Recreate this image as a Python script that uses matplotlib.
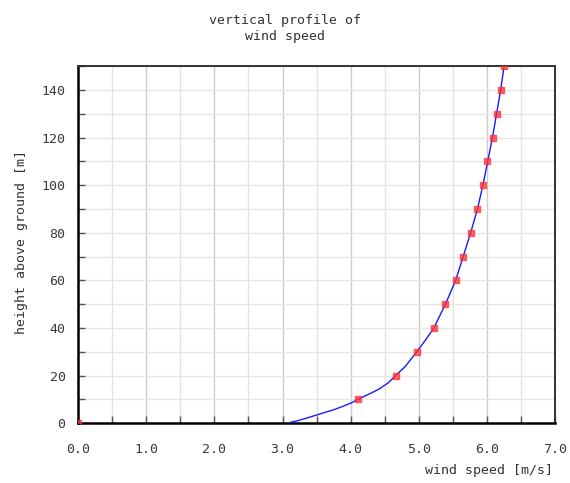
import matplotlib
matplotlib.use("Agg")
import matplotlib.pyplot as plt
from matplotlib.ticker import MultipleLocator

plt.rcParams.update({
    "font.family": "DejaVu Sans Mono",
    "font.size": 9,
})

# measured wind speed at each height
heights = [0, 10, 20, 30, 40, 50, 60, 70, 80, 90, 100, 110, 120, 130, 140, 150]
speeds = [0.0, 4.11, 4.66, 4.97, 5.22, 5.39, 5.54, 5.65, 5.76, 5.86, 5.94, 6.00, 6.09, 6.14, 6.21, 6.25]

# fitted profile curve
curve_z = [0.3, 1.0, 2.0, 3.4, 4.5, 5.6, 7.0, 8.4, 10, 11.3, 12.6, 14.4, 16.9, 20, 23.8, 30, 35, 40,
           50, 60, 70, 80, 90, 100, 110, 120, 130, 140, 150]
curve_u = [3.11, 3.22, 3.34, 3.50, 3.62, 3.75, 3.88, 4.00, 4.11, 4.20, 4.30, 4.42, 4.55, 4.66, 4.80, 4.97,
           5.10, 5.22, 5.39, 5.54, 5.65, 5.76, 5.86, 5.94, 6.01, 6.08, 6.14, 6.20, 6.25]

fig = plt.figure(figsize=(5.7, 4.83), dpi=100)
ax = fig.add_axes([0.137, 0.124, 0.837, 0.739])

ax.plot(curve_u, curve_z, color="#1a1aff", lw=1.0, zorder=3)
ax.plot(speeds, heights, ls="none", marker="s", ms=5.0, mfc="#ff3333",
        mec="#ff3333", alpha=0.75, zorder=4)

ax.set_xlim(0, 7)
ax.set_ylim(0, 150)
ax.xaxis.set_minor_locator(MultipleLocator(0.5))
ax.yaxis.set_major_locator(MultipleLocator(20))
ax.yaxis.set_minor_locator(MultipleLocator(10))
ax.set_xticks([float(v) for v in range(8)])
ax.set_xticklabels([f"{v:.1f}" for v in range(8)])

ax.grid(which="major", axis="x", color="#cccccc", lw=1.0)
ax.grid(which="minor", axis="x", color="#e2e2e2", lw=1.0)
ax.grid(which="both", axis="y", color="#e6e6e6", lw=1.0)
ax.set_axisbelow(True)

ax.tick_params(which="both", direction="in", length=5, width=1, color="#555555",
               labelcolor="#3a3a3a", labelsize=9.5)
ax.tick_params(axis="x", pad=14)
ax.tick_params(axis="y", pad=9)

for side in ["left", "bottom"]:
    ax.spines[side].set_color("black")
    ax.spines[side].set_linewidth(1.8)
for side in ["top", "right"]:
    ax.spines[side].set_color("#333333")
    ax.spines[side].set_linewidth(1.4)

fig.text(0.5, 0.972, "vertical profile of\nwind speed", ha="center", va="top",
         fontsize=9.5, color="#333333", linespacing=1.3)
fig.text(0.97, 0.012, "wind speed [m/s]", ha="right", va="bottom",
         fontsize=9.5, color="#333333")
fig.text(0.038, 0.5, "height above ground [m]", ha="center", va="center",
         rotation=90, fontsize=9.5, color="#333333")

fig.savefig("out.png", dpi=100, facecolor="white")
